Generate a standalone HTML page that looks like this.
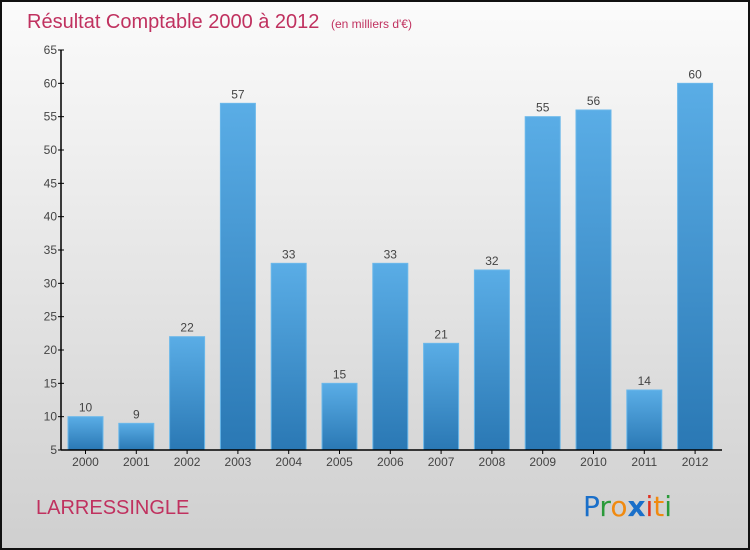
<!DOCTYPE html>
<html><head><meta charset="utf-8"><style>
body{margin:0;}
svg{display:block;font-family:"Liberation Sans",sans-serif;}
</style></head><body>
<svg id="chart" width="750" height="550" xmlns="http://www.w3.org/2000/svg">
<defs>
<linearGradient id="bg" x1="0" y1="0" x2="0" y2="1"><stop offset="0" stop-color="#fbfbfb"/><stop offset="1" stop-color="#cfcfcf"/></linearGradient>
<linearGradient id="bar" x1="0" y1="0" x2="0" y2="1"><stop offset="0" stop-color="#5aade6"/><stop offset="1" stop-color="#2a78b4"/></linearGradient>
</defs>
<rect x="1" y="1" width="748" height="548" fill="url(#bg)" stroke="#111" stroke-width="2"/>
<text x="27" y="28" font-size="20" fill="#c0315f">Résultat Comptable 2000 à 2012 <tspan font-size="12" dx="6">(en milliers d'€)</tspan></text>
<text x="36" y="514" font-size="20" fill="#c0315f">LARRESSINGLE</text>
<g font-size="28" font-family="'DejaVu Sans',sans-serif">
<text x="583" y="516"><tspan fill="#1a6fc9">P</tspan><tspan fill="#2a9a3a">r</tspan><tspan fill="#f08a10">o</tspan><tspan fill="#1a6fc9" font-weight="bold">x</tspan><tspan fill="#e03020">i</tspan><tspan fill="#f08a10">t</tspan><tspan fill="#2a9a3a">i</tspan></text>
</g>
<g id="plot"></g>
</svg>
<script>
const categories=["2000","2001","2002","2003","2004","2005","2006","2007","2008","2009","2010","2011","2012"];
const values=[10,9,22,57,33,15,33,21,32,55,56,14,60];
const yTicks=[5,10,15,20,25,30,35,40,45,50,55,60,65];
const yMin=5,yMax=65,plotTop=50,plotBottom=450,axisX=61,x0=85.5,step=50.8,bw=35;
const NS="http://www.w3.org/2000/svg";
const g=document.getElementById('plot');
function y(v){return plotBottom-(v-yMin)/(yMax-yMin)*(plotBottom-plotTop);}
function x(i){return x0+i*step;}
function mk(t,a,txt){const e=document.createElementNS(NS,t);for(const k in a)e.setAttribute(k,a[k]);if(txt!==undefined)e.textContent=txt;g.appendChild(e);return e;}
values.forEach((v,i)=>{
 const r=mk('rect',{x:x(i)-bw/2,y:y(v),width:bw,height:plotBottom-y(v),fill:'url(#bar)',stroke:'#6bb8ea','stroke-width':1});
 
 
 const t=mk('text',{x:x(i),y:y(v)-5,'font-size':12,fill:'#444','text-anchor':'middle'},String(v));
 
 
 const c=mk('text',{x:x(i),y:plotBottom+16,'font-size':12,fill:'#444','text-anchor':'middle'},categories[i]);
 
 
 const tk=mk('line',{x1:x(i),x2:x(i),y1:plotBottom,y2:plotBottom+4,stroke:'#000'});
 
 
});
yTicks.forEach(v=>{
 const t=mk('text',{x:axisX-4,y:y(v)+4,'font-size':12,fill:'#444','text-anchor':'end'},String(v));
 
 
 const l=mk('line',{x1:axisX-3,x2:axisX+3,y1:y(v),y2:y(v),stroke:'#000'});
 
 
});
const ya=mk('line',{x1:axisX,x2:axisX,y1:plotTop,y2:plotBottom,stroke:'#000','stroke-width':1.5});


const xa=mk('line',{x1:axisX,x2:722,y1:plotBottom,y2:plotBottom,stroke:'#000','stroke-width':1.5});


</script>
</body></html>
